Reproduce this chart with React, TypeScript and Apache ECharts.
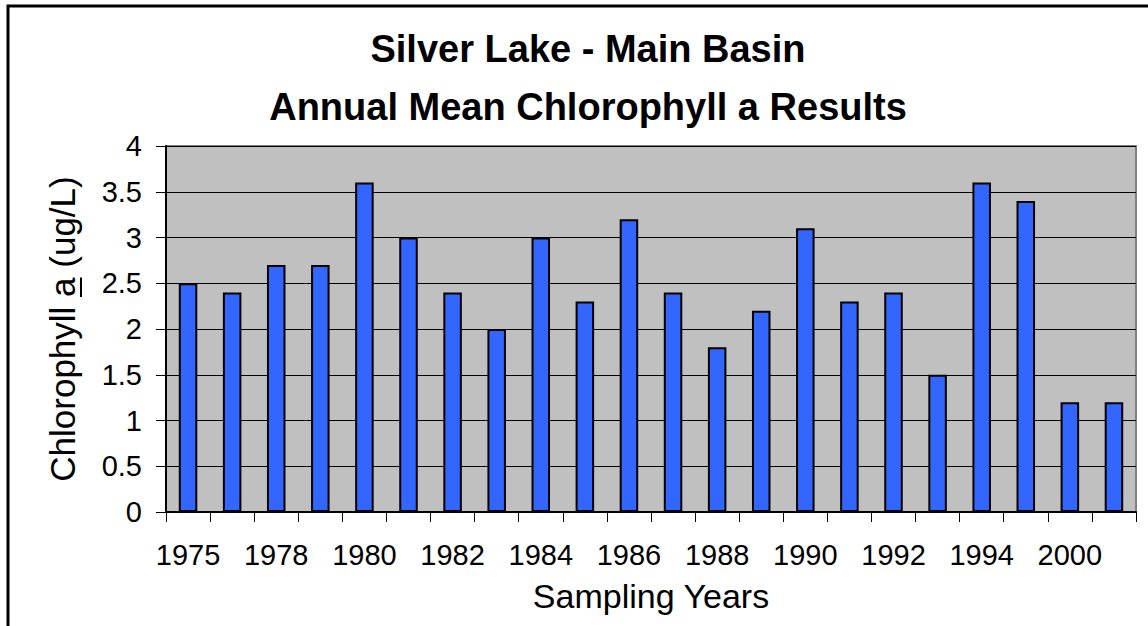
import React, { useEffect, useRef } from "react";
import * as echarts from "echarts";

const years = [
  "1975", "1976", "1978", "1979", "1980", "1981", "1982", "1983", "1984", "1985", "1986",
  "1987", "1988", "1989", "1990", "1991", "1992", "1993", "1994", "1995", "2000", "2001",
];
const chlorophyll = [
  2.5, 2.4, 2.7, 2.7, 3.6, 3.0, 2.4, 2.0, 3.0, 2.3, 3.2,
  2.4, 1.8, 2.2, 3.1, 2.3, 2.4, 1.5, 3.6, 3.4, 1.2, 1.2,
];
const titleLines = ["Silver Lake - Main Basin", "Annual Mean Chlorophyll a Results"];
const yNameParts = ["Chlorophyll ", "a", " (ug/L)"];
const xName = "Sampling Years";

const FONT = "'Liberation Sans', Arial, sans-serif";

function measure(text: string, font: string): number {
  const c = document.createElement("canvas");
  const ctx = c.getContext("2d");
  if (!ctx) return text.length * 15;
  ctx.font = font;
  return ctx.measureText(text).width;
}

export default function App() {
  const ref = useRef<HTMLDivElement>(null);
  useEffect(() => {
    document.body.style.margin = "0";
    if (!ref.current) return;
    const chart = echarts.init(ref.current, undefined, { renderer: "svg" });
    const yFontSize = 35;
    const yFont = `${yFontSize}px 'Liberation Sans'`;
    const widths = yNameParts.map((p) => measure(p, yFont));
    const total = widths.reduce((a, b) => a + b, 0);
    let acc = -total / 2;
    const yChildren: any[] = [];
    yNameParts.forEach((p, i) => {
      yChildren.push({
        type: "text",
        x: acc,
        y: 0,
        style: {
          text: p,
          font: `${yFontSize}px ${FONT}`,
          fill: "#000",
          textAlign: "left",
          textVerticalAlign: "middle",
        },
      });
      if (i === 1) {
        yChildren.push({
          type: "line",
          shape: { x1: acc, y1: 19, x2: acc + widths[i], y2: 19 },
          style: { stroke: "#000", lineWidth: 2 },
        });
      }
      acc += widths[i];
    });

    chart.setOption({
      animation: false,
      backgroundColor: "#fff",
      title: {
        text: titleLines.join("\n"),
        left: 583,
        textAlign: "center",
        top: 15,
        textStyle: {
          fontFamily: FONT,
          fontWeight: "bold",
          fontSize: 38,
          lineHeight: 58,
          color: "#000",
        },
      },
      grid: {
        left: 166,
        top: 146,
        right: 12,
        bottom: 114,
        show: true,
        backgroundColor: "#C0C0C0",
        borderColor: "#808080",
        borderWidth: 2,
      },
      xAxis: {
        type: "category",
        data: years,
        name: xName,
        nameLocation: "middle",
        nameGap: 67,
        nameTextStyle: { fontFamily: FONT, fontSize: 34, color: "#000" },
        axisLine: { lineStyle: { color: "#000", width: 2 } },
        axisTick: { show: true, interval: 0, length: 10, lineStyle: { color: "#000", width: 1 } },
        axisLabel: {
          interval: 1,
          margin: 28,
          fontFamily: FONT,
          fontSize: 29,
          color: "#000",
        },
      },
      yAxis: {
        type: "value",
        min: 0,
        max: 4,
        interval: 0.5,
        axisLine: { show: true, lineStyle: { color: "#000", width: 2 } },
        axisTick: { show: true, length: 10, lineStyle: { color: "#000", width: 1 } },
        axisLabel: {
          margin: 24,
          fontFamily: FONT,
          fontSize: 29,
          color: "#000",
        },
        splitLine: { show: true, lineStyle: { color: "#000", width: 1 } },
      },
      series: [
        {
          type: "bar",
          data: chlorophyll,
          barWidth: "42%",
          itemStyle: { color: "#3366FF", borderColor: "#000", borderWidth: 2 },
        },
      ],
      graphic: [
        {
          type: "rect",
          shape: { x: 8, y: 6, width: 1300, height: 800 },
          style: { fill: "none", stroke: "#000", lineWidth: 3 },
          silent: true,
        },
        {
          type: "group",
          x: 62,
          y: 329,
          rotation: Math.PI / 2,
          children: yChildren,
        },
      ],
    });
    return () => chart.dispose();
  }, []);
  return <div ref={ref} style={{ width: 1148, height: 626 }} />;
}
